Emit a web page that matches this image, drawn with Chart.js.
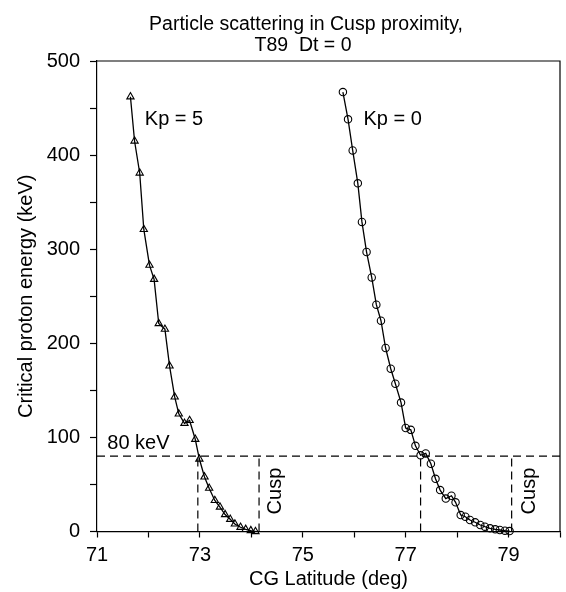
<!DOCTYPE html>
<html><head><meta charset="utf-8">
<script src="https://cdn.jsdelivr.net/npm/chart.js@4"></script>
<style>html,body{margin:0;padding:0;background:#fff}</style>
</head><body>
<canvas id="c" width="566" height="592"></canvas>
<script>
// ---- data ----
const kp5Lat = [71.65,71.73,71.83,71.91,72.02,72.11,72.20,72.32,72.41,72.51,72.59,72.70,72.80,72.91,72.99,73.09,73.18,73.29,73.39,73.49,73.59,73.68,73.79,73.89,73.99,74.08];
const kp5Energy = [462,415,381,321,283,268,221,215,176,143,125,115,118,98,77,58,46,33,26,18,13,8,4.5,2.3,1,0];
const kp0Lat = [75.78,75.88,75.97,76.07,76.15,76.24,76.34,76.43,76.52,76.61,76.71,76.80,76.91,77.00,77.10,77.19,77.29,77.39,77.49,77.58,77.67,77.78,77.89,77.97,78.07,78.16,78.25,78.35,78.45,78.54,78.64,78.74,78.83,78.93,79.02];
const kp0Energy = [467,438,405,370,329,297,270,241,224,195,173,157,137,110,108,91,81,83,72,56,44,35,38,31,17.5,15.7,12.2,9.8,6.9,5.1,3.4,2.3,1.6,0.9,0.5];
const thresholdKeV = 80;
const cuspLatitudes = [72.96, 74.15, 77.29, 79.06];
const xLabeledTicks = [71, 73, 75, 77, 79];
const yLabeledTicks = [0, 100, 200, 300, 400, 500];
const titleLines = ['Particle scattering in Cusp proximity,', 'T89  Dt = 0'];

const FONT = '"Liberation Sans", Arial, Helvetica, sans-serif';
const pts = (xs, ys) => xs.map((x, i) => ({x, y: ys[i]}));

const datasets = [
  {label: 'Kp = 5', data: pts(kp5Lat, kp5Energy), showLine: true, borderColor: '#000', borderWidth: 1.3,
   pointStyle: 'triangle', pointRadius: 4.2, pointBorderWidth: 1.1, pointBackgroundColor: 'rgba(255,255,255,0)', pointBorderColor: '#000', tension: 0, clip: false},
  {label: 'Kp = 0', data: pts(kp0Lat, kp0Energy), showLine: true, borderColor: '#000', borderWidth: 1.3,
   pointStyle: 'circle', pointRadius: 3.7, pointBorderWidth: 1.1, pointBackgroundColor: 'rgba(255,255,255,0)', pointBorderColor: '#000', tension: 0, clip: false},
  {label: '80 keV', data: [{x: 71, y: thresholdKeV}, {x: 80, y: thresholdKeV}], showLine: true, borderColor: '#000', borderWidth: 1.2,
   borderDash: [8, 5], pointRadius: 0, clip: false}
];
cuspLatitudes.forEach(c => datasets.push({label: 'cusp ' + c, data: [{x: c, y: 0}, {x: c, y: thresholdKeV}], showLine: true,
  borderColor: '#000', borderWidth: 1.2, borderDash: [8, 5], pointRadius: 0, clip: false}));

const framePlugin = {
  id: 'frame',
  afterDatasetsDraw(chart) {
    const {ctx, chartArea: a} = chart;
    ctx.save();
    ctx.strokeStyle = '#000'; ctx.lineWidth = 1.2;
    ctx.beginPath();
    ctx.moveTo(a.left, a.top); ctx.lineTo(a.right, a.top); ctx.lineTo(a.right, a.bottom);
    ctx.stroke();
    ctx.restore();
  },
  afterDraw(chart) {
    const {ctx} = chart;
    const xs = chart.scales.x, ys = chart.scales.y;
    ctx.save();
    ctx.fillStyle = '#000';
    ctx.font = '19.5px ' + FONT;
    ctx.textAlign = 'center'; ctx.textBaseline = 'alphabetic';
    ctx.fillText(titleLines[0], 306, 30);
    ctx.fillText(titleLines[1], 303, 51);
    ctx.font = '20px ' + FONT;
    ctx.textAlign = 'left';
    ctx.fillText('Kp = 5', xs.getPixelForValue(71.93), ys.getPixelForValue(432));
    ctx.fillText('Kp = 0', xs.getPixelForValue(76.18), ys.getPixelForValue(432));
    ctx.fillText('80 keV', xs.getPixelForValue(71.2), ys.getPixelForValue(88));
    // Cusp labels (rotated)
    [[74.58, 43], [79.51, 43]].forEach(([lx, ly]) => {
      ctx.save();
      ctx.translate(xs.getPixelForValue(lx), ys.getPixelForValue(ly));
      ctx.rotate(-Math.PI / 2);
      ctx.textAlign = 'center'; ctx.textBaseline = 'alphabetic';
      ctx.fillText('Cusp', 0, 0);
      ctx.restore();
    });
    ctx.restore();
  }
};

new Chart(document.getElementById('c'), {
  type: 'scatter',
  data: {datasets},
  options: {
    responsive: false, animation: false, devicePixelRatio: 1,
    layout: {padding: {top: 61, right: 3, left: 0, bottom: 0}},
    plugins: {legend: {display: false}, tooltip: {enabled: false}, title: {display: false}},
    scales: {
      x: {
        type: 'linear', min: 71, max: 80,
        afterFit: s => { s.height = 60.5; },
        ticks: {stepSize: 1, autoSkip: false, maxRotation: 0, padding: 6, color: '#000',
          font: {family: FONT, size: 20},
          callback: v => xLabeledTicks.includes(v) ? String(v) : ''},
        grid: {drawOnChartArea: false, drawTicks: true, tickLength: 6, color: '#000', tickWidth: 1.2},
        border: {display: true, color: '#000', width: 1.2},
        title: {display: true, text: 'CG Latitude (deg)', color: '#000', font: {family: FONT, size: 20}, padding: {top: 0, bottom: 1}}
      },
      y: {
        type: 'linear', min: 0, max: 500,
        afterFit: s => { s.width = 97; },
        ticks: {stepSize: 50, autoSkip: false, padding: 10, color: '#000',
          font: {family: FONT, size: 20},
          callback: v => yLabeledTicks.includes(v) ? String(v) : ''},
        grid: {drawOnChartArea: false, drawTicks: true, tickLength: 7, color: '#000', tickWidth: 1.2},
        border: {display: true, color: '#000', width: 1.2},
        title: {display: true, text: 'Critical proton energy (keV)', color: '#000', font: {family: FONT, size: 20}, padding: {top: 14, bottom: 0}}
      }
    }
  },
  plugins: [framePlugin]
});
</script>
</body></html>
